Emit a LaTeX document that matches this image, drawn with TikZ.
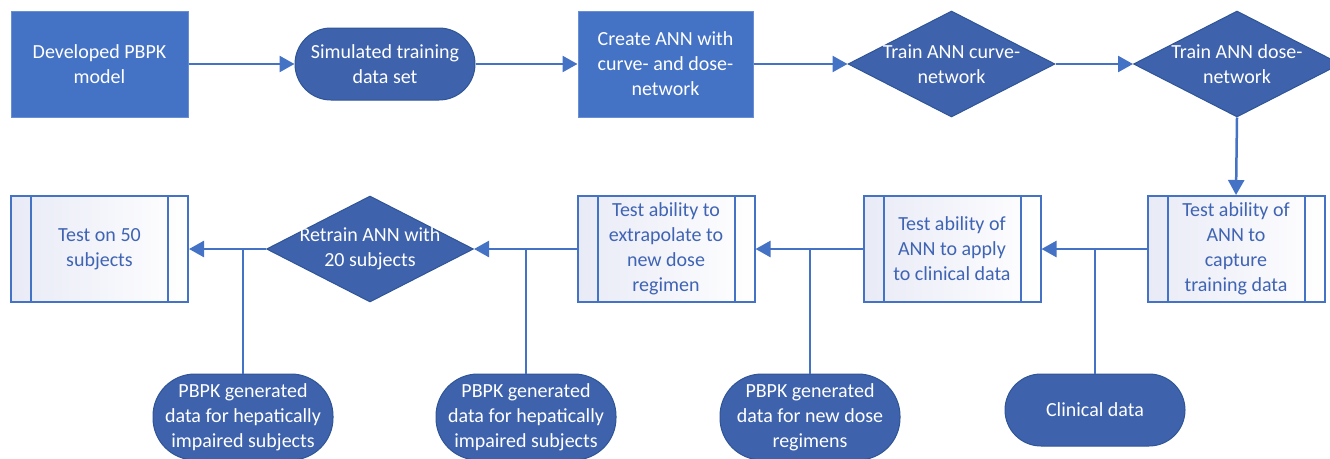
\documentclass[tikz,border=0pt]{standalone}
\usepackage{fontspec}
\setmainfont{Carlito}
\usetikzlibrary{arrows.meta,shapes.geometric}
\definecolor{lblue}{HTML}{4472C4}
\definecolor{lborder}{HTML}{6A8ED3}
\definecolor{dblue}{HTML}{3E62AB}
\definecolor{dborder}{HTML}{2F5597}
\definecolor{ptext}{HTML}{3F64B4}
\definecolor{pfill}{HTML}{E8EAF6}
\tikzset{
  base/.style={inner sep=0pt, align=center, font=\fontsize{20}{25}\selectfont},
  lbox/.style={base, rectangle, fill=lblue, draw=lborder, line width=1pt, text=white},
  dstad/.style={base, rectangle, rounded corners=36pt, fill=dblue, draw=dborder, line width=1pt, text=white, minimum width=180pt},
  ddia/.style={diamond, inner sep=0pt, fill=dblue, draw=dborder, line width=1pt, minimum width=207pt, minimum height=106pt},
  dtext/.style={base, text=white},
  proc/.style={base, rectangle, draw=lblue, line width=2pt, left color=pfill, right color=white, text=ptext, minimum width=177pt, minimum height=106pt},
  procline/.style={draw=lblue, line width=2pt},
  conn/.style={draw=lblue, line width=2.5pt},
  arr/.style={conn, -{Triangle[length=15pt,width=16pt]}},
}
\begin{document}
\begin{tikzpicture}[x=1pt,y=-1pt]
\useasboundingbox (0,0) rectangle (1330,458);
% top row
\node[lbox, minimum width=177pt, minimum height=106pt] (n1) at (99.5,64) {Developed PBPK\\model};
\node[dstad, minimum height=72pt] (n2) at (385,64) {Simulated training\\data set};
\node[lbox, minimum width=175pt, minimum height=106pt] (n3) at (665.5,64) {Create ANN with\\curve- and dose-\\network};
\node[ddia] (d1) at (951.5,64) {};
\node[dtext] (d1t) at (d1.center) {Train ANN curve-\\network};
\node[ddia] (d2) at (1237,64) {};
\node[dtext] (d2t) at (d2.center) {Train ANN dose-\\network};
% middle row
\node[proc] (b2) at (1236,249) {Test ability of\\ANN to\\capture\\training data};
\node[proc] (b3) at (952,249) {Test ability of\\ANN to apply\\to clinical data};
\node[proc] (b4) at (666,249) {Test ability to\\extrapolate to\\new dose\\regimen};
\node[ddia] (d3) at (370,249) {};
\node[dtext] (d3t) at (d3.center) {Retrain ANN with\\20 subjects};
\node[proc] (b5) at (99.5,249) {Test on 50\\subjects};
\foreach \b in {b2,b3,b4,b5}{
  \draw[procline] ([xshift=21pt]\b.north west) -- ([xshift=21pt]\b.south west);
  \draw[procline] ([xshift=-21pt]\b.north east) -- ([xshift=-21pt]\b.south east);
}
% bottom row
\node[dstad, minimum height=86pt, rounded corners=42pt] (s1) at (243,417) {PBPK generated\\data for hepatically\\impaired subjects};
\node[dstad, minimum height=86pt, rounded corners=42pt] (s2) at (526,417) {PBPK generated\\data for hepatically\\impaired subjects};
\node[dstad, minimum height=86pt, rounded corners=42pt] (s3) at (810,417) {PBPK generated\\data for new dose\\regimens};
\node[dstad, minimum height=72pt] (s4) at (1095,410) {Clinical data};
% connectors
\draw[arr] (n1.east) -- (n2.west);
\draw[arr] (n2.east) -- (n3.west);
\draw[arr] (n3.east) -- (d1.west);
\draw[arr] (d1.east) -- (d2.west);
\draw[arr] (d2.south) -- (b2.north);
\draw[arr] (b2.west) -- (b3.east);
\draw[arr] (b3.west) -- (b4.east);
\draw[arr] (b4.west) -- (d3.east);
\draw[arr] (d3.west) -- (b5.east);
\draw[conn] (s4.north) -- (s4.north |- b2.west);
\draw[conn] (s3.north) -- (s3.north |- b3.west);
\draw[conn] (s2.north) -- (s2.north |- b4.west);
\draw[conn] (s1.north) -- (s1.north |- d3.west);
\end{tikzpicture}
\end{document}
